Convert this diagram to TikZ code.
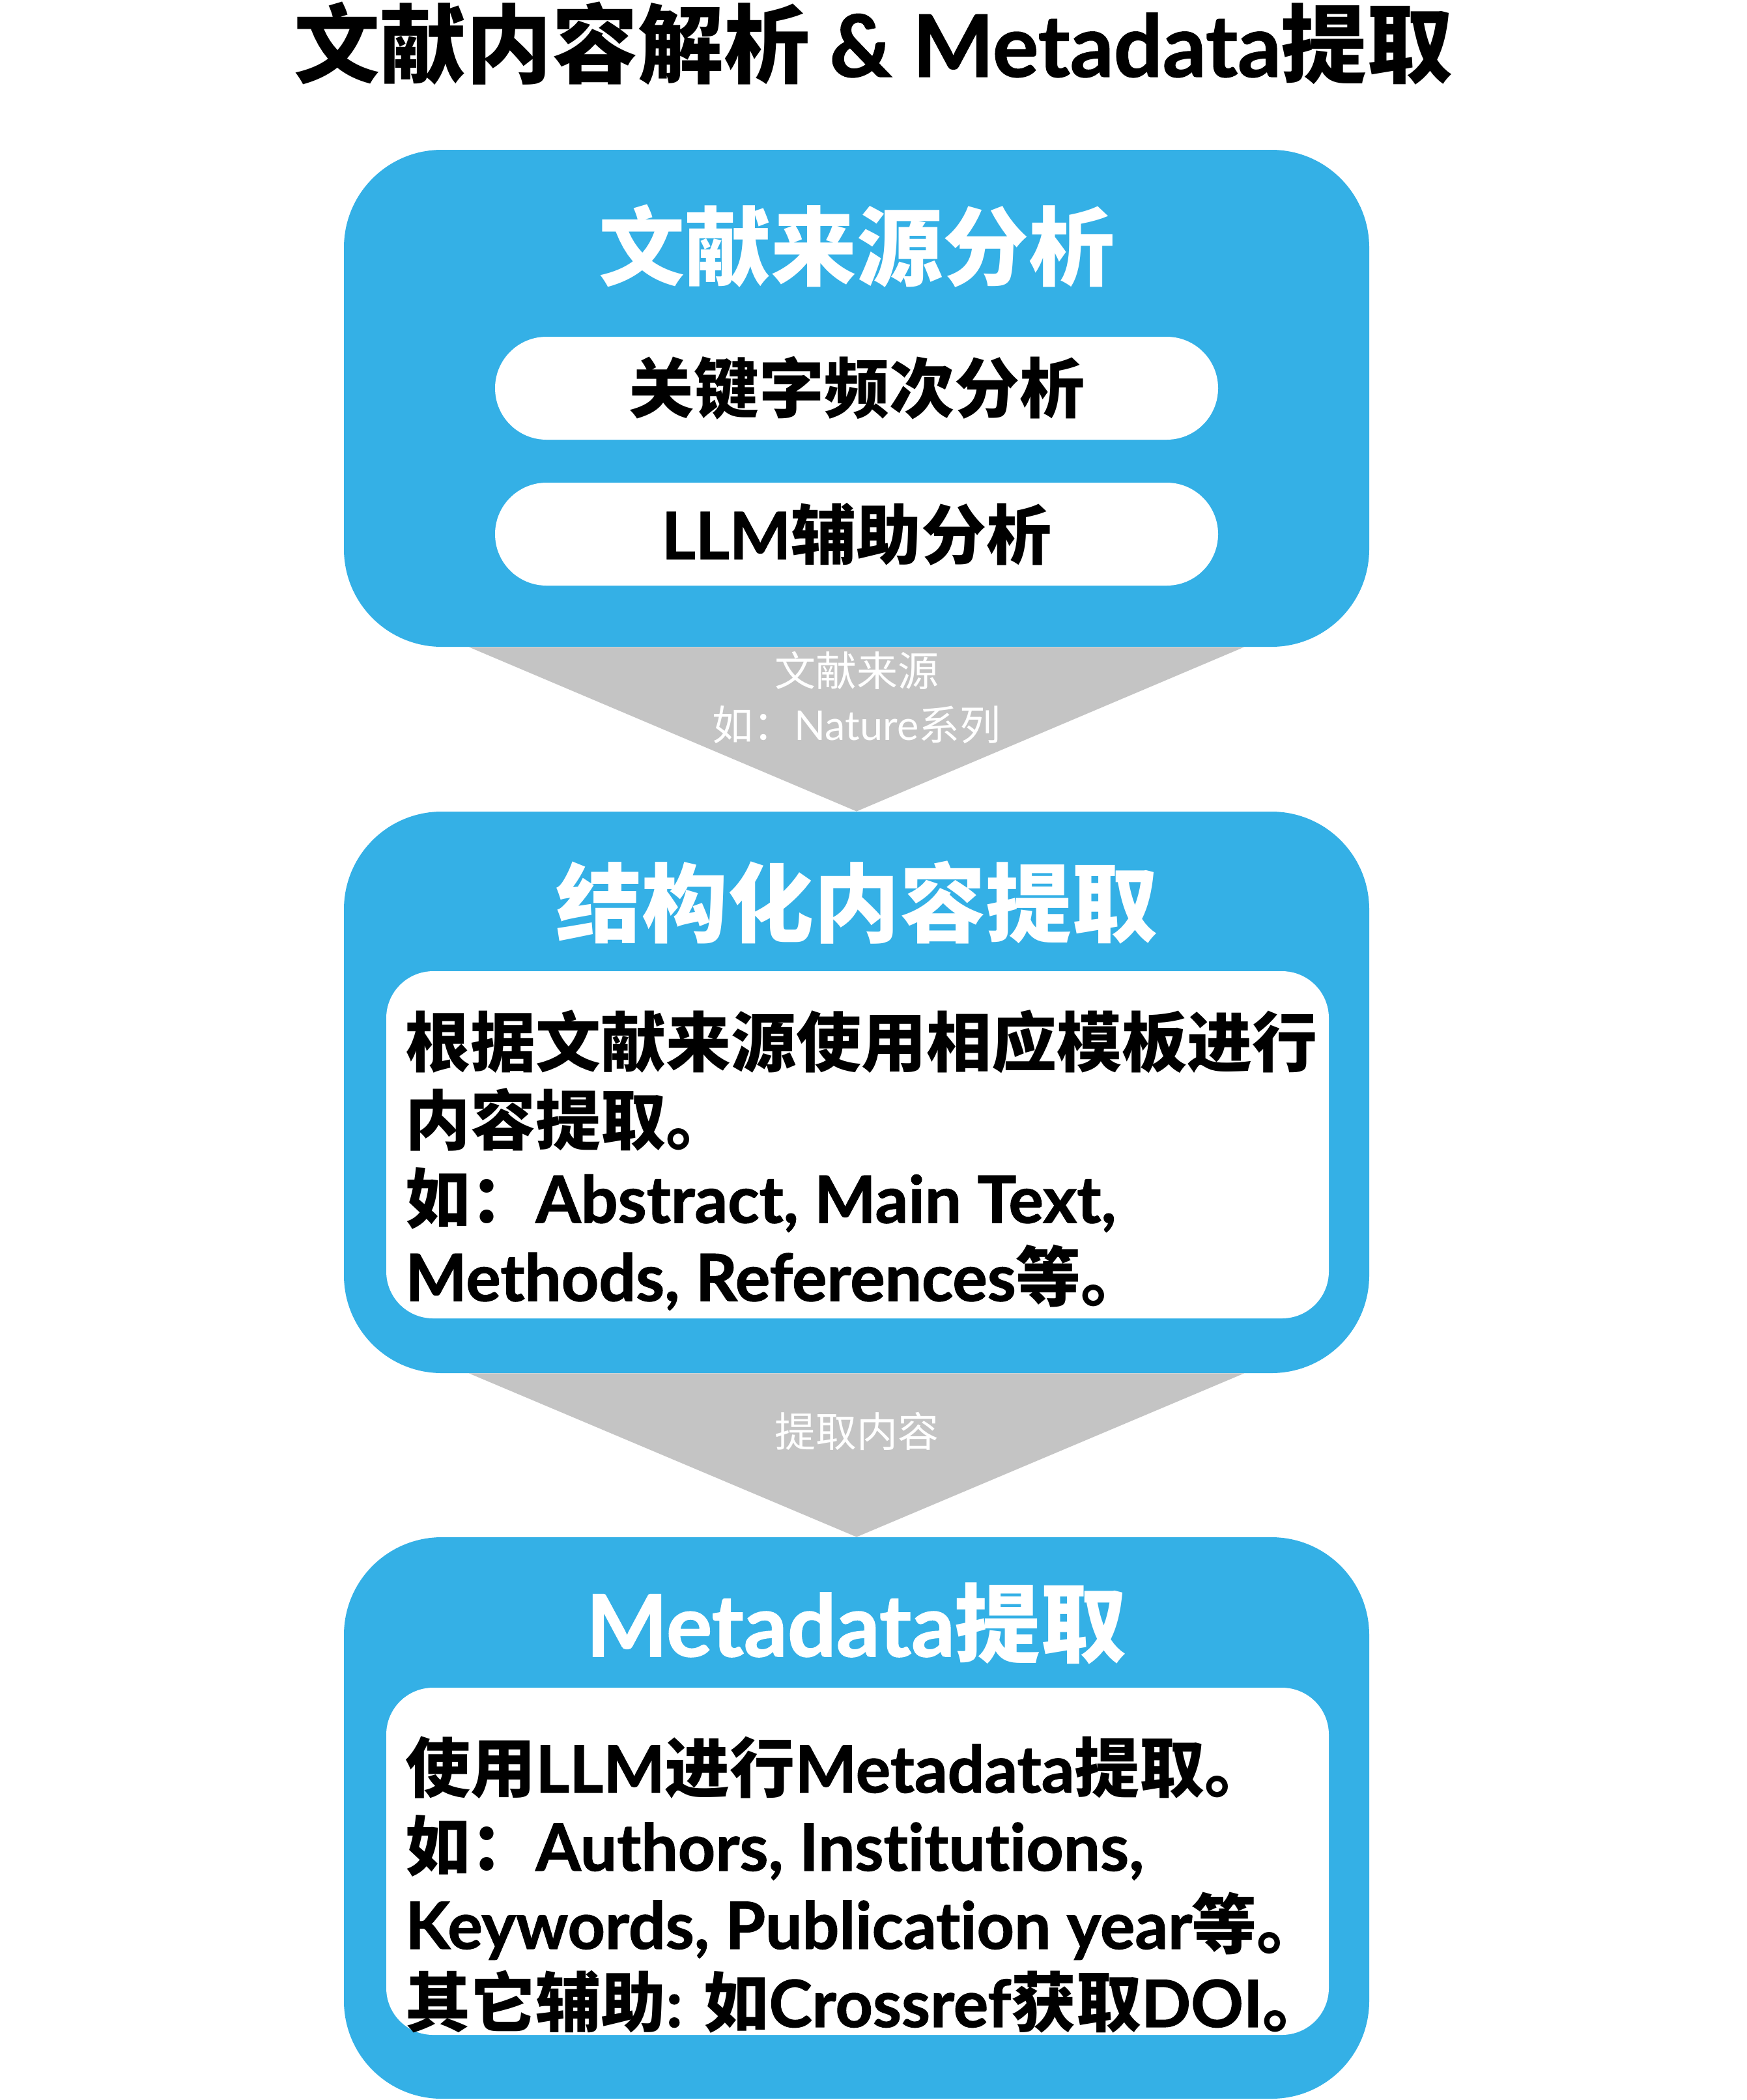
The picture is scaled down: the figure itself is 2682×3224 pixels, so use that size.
\documentclass[tikz,border=0pt]{standalone}
\usepackage{fontspec}
\setmainfont{Noto Sans CJK SC}
\newfontfamily\latinfont{Lato}[BoldFont={Lato Bold}, BoldFeatures={FakeBold=1.2}, Ligatures=NoCommon]
\newcommand{\en}[1]{{\latinfont #1}}
\definecolor{boxblue}{RGB}{52,176,230}
\definecolor{arrowgray}{RGB}{196,196,196}

\tikzset{
  bluebox/.style={fill=boxblue, rounded corners=75pt, minimum width=787pt, inner sep=0pt},
  pill/.style={fill=white, rounded corners=39.5pt, minimum width=555pt, minimum height=79pt,
    inner sep=0pt, font=\fontsize{50}{60}\selectfont\bfseries},
  panel/.style={fill=white, rounded corners=36pt, minimum width=723.5pt, minimum height=266.5pt, inner sep=0pt},
  boxtitle/.style={text=white, inner sep=0pt, font=\fontsize{66}{80}\selectfont\bfseries},
  bodytext/.style={align=left, anchor=west, inner sep=0pt, font=\fontsize{50}{60}\selectfont\bfseries},
  flowlabel/.style={text=white, align=center, inner sep=0pt, font=\fontsize{31.5}{41.5}\selectfont}
}

\begin{document}
\begin{tikzpicture}[x=0.5pt, y=-0.5pt]
    \useasboundingbox (0,0) rectangle (2682,3224);

    % 总标题
    \node[inner sep=0pt, font=\fontsize{66}{80}\selectfont\bfseries] (title) at (1341,67) {文献内容解析 \en{\& Metadata}提取};

    % 三个蓝色大框
    \node[bluebox, minimum height=381.5pt] (src) at (1315,611.5) {};
    \node[bluebox, minimum height=431pt] (struct) at (1315,1677) {};
    \node[bluebox, minimum height=431pt] (meta) at (1315,2791) {};

    % 第一步：文献来源分析
    \node[boxtitle] (srctitle) at (1315,378) {文献来源分析};
    \node[pill] (kw) at (1315,596) {关键字频次分析};
    \node[pill] (llm) at (1315,820) {\en{LLM}辅助分析};

    % 灰色三角箭头
    \fill[arrowgray] ([xshift=-297.5pt]src.south) -- ([xshift=297.5pt]src.south) -- (struct.north) -- cycle;
    \node[flowlabel] (srclabel) at (1315,1071) {文献来源\\如：\en{Nature}系列};

    % 第二步：结构化内容提取
    \node[boxtitle] (structtitle) at (1315,1386) {结构化内容提取};
    \node[panel] (structpanel) at (1316.5,1757.5) {};
    \node[bodytext] (structtext) at (622,1781) {根据文献来源使用相应模板进行\\内容提取。\\如：\en{Abstract, Main Text,}\\\en{Methods, References}等。};

    \fill[arrowgray] ([xshift=-297.5pt]struct.south) -- ([xshift=297.5pt]struct.south) -- (meta.north) -- cycle;
    \node[flowlabel] (structlabel) at (1315,2197) {提取内容};

    % 第三步：Metadata提取
    \node[boxtitle] (metatitle) at (1315,2493) {\en{Metadata}提取};
    \node[panel] (metapanel) at (1316.5,2857.5) {};
    \node[bodytext] (metatext) at (622,2894) {使用\en{LLM}进行\en{Metadata}提取。\\如：\en{Authors, Institutions,}\\\en{Keywords, Publication year}等。\\其它辅助\en{: }如\en{Crossref}获取\en{DOI}。};
\end{tikzpicture}
\end{document}
